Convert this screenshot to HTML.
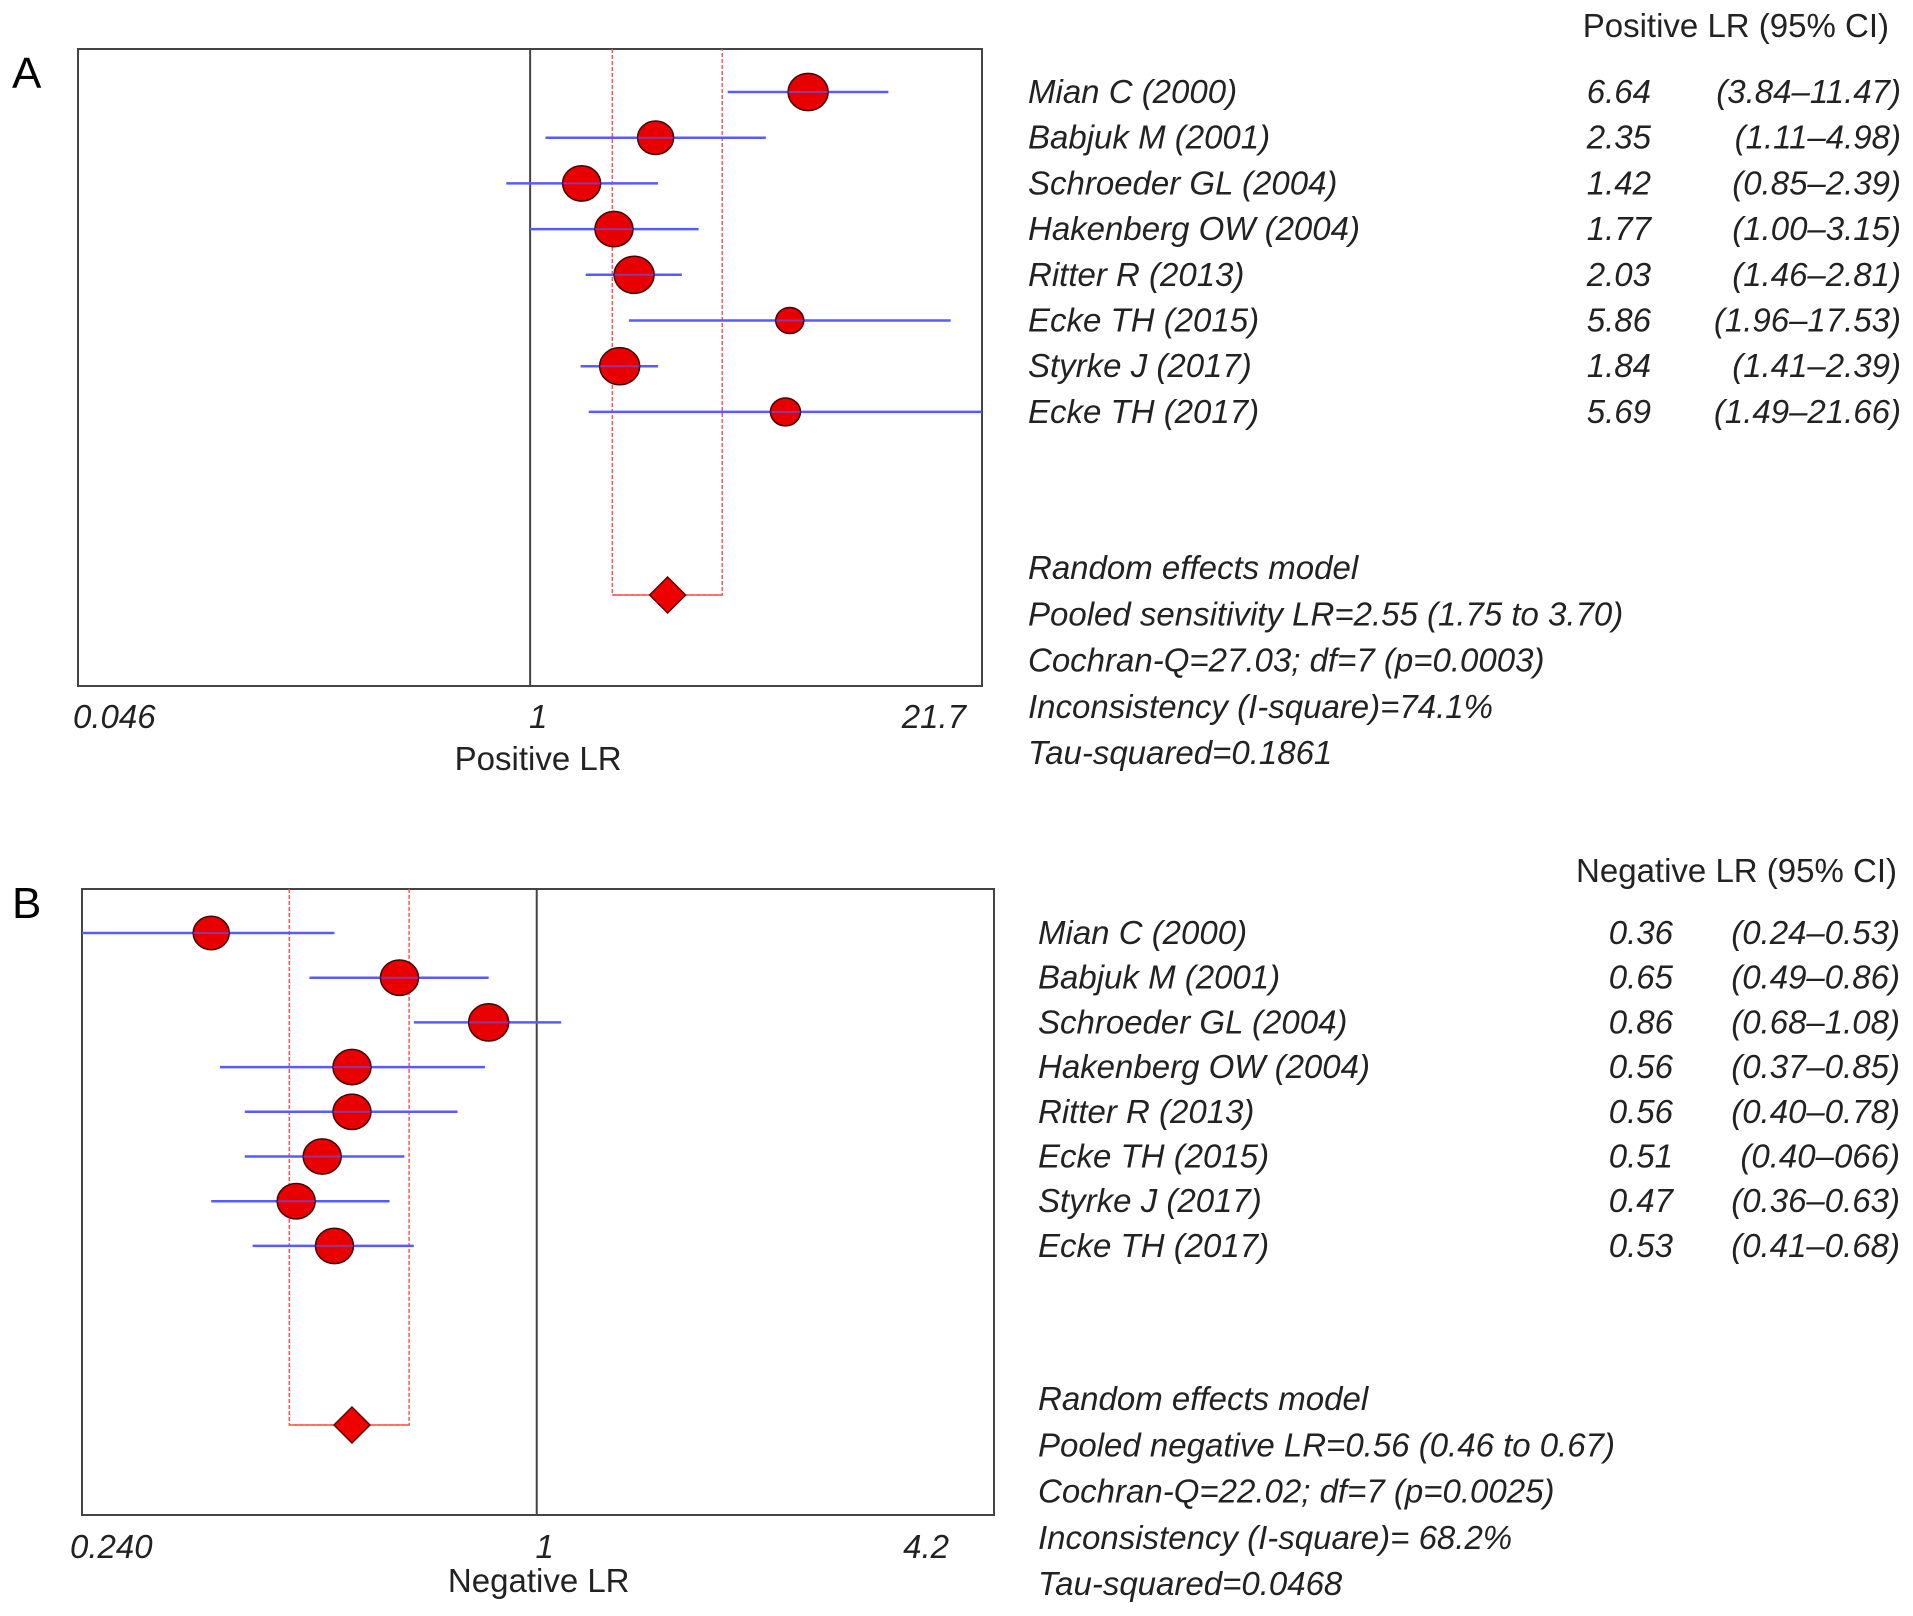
<!DOCTYPE html>
<html><head><meta charset="utf-8"><style>
html,body{margin:0;padding:0;background:#fff;}
svg{display:block;font-family:"Liberation Sans",sans-serif;}
.it{font-style:italic;}
</style></head><body>
<svg id="chart" width="1913" height="1616" viewBox="0 0 1913 1616">
<text x="12" y="88" font-size="44">A</text>
<text x="12" y="918" font-size="44">B</text>
</svg>
<script>
// Panel A data
const studiesA = ["Mian C (2000)","Babjuk M (2001)","Schroeder GL (2004)","Hakenberg OW (2004)","Ritter R (2013)","Ecke TH (2015)","Styrke J (2017)","Ecke TH (2017)"];
const estA = [6.64,2.35,1.42,1.77,2.03,5.86,1.84,5.69];
const lowA = [3.84,1.11,0.85,1.00,1.46,1.96,1.41,1.49];
const highA = [11.47,4.98,2.39,3.15,2.81,17.53,2.39,21.66];
const ciTextA = ["(3.84–11.47)","(1.11–4.98)","(0.85–2.39)","(1.00–3.15)","(1.46–2.81)","(1.96–17.53)","(1.41–2.39)","(1.49–21.66)"];
const weightA = [20,18,19,19,20,14,20,15];
const pooledA = [2.55,1.75,3.70];
const ticksA = ["0.046","1","21.7"];
const tickValsA = [0.046,1,21.7];
const summaryA = ["Random effects model","Pooled sensitivity LR=2.55 (1.75 to 3.70)","Cochran-Q=27.03; df=7 (p=0.0003)","Inconsistency (I-square)=74.1%","Tau-squared=0.1861"];
// Panel B data
const studiesB = ["Mian C (2000)","Babjuk M (2001)","Schroeder GL (2004)","Hakenberg OW (2004)","Ritter R (2013)","Ecke TH (2015)","Styrke J (2017)","Ecke TH (2017)"];
const estB = [0.36,0.65,0.86,0.56,0.56,0.51,0.47,0.53];
const lowB = [0.24,0.49,0.68,0.37,0.40,0.40,0.36,0.41];
const highB = [0.53,0.86,1.08,0.85,0.78,0.66,0.63,0.68];
const ciTextB = ["(0.24–0.53)","(0.49–0.86)","(0.68–1.08)","(0.37–0.85)","(0.40–0.78)","(0.40–066)","(0.36–0.63)","(0.41–0.68)"];
const weightB = [18,19,20,19,19,19,19,19];
const pooledB = [0.56,0.46,0.67];
const ticksB = ["0.240","1","4.2"];
const tickValsB = [0.240,1,4.2];
const summaryB = ["Random effects model","Pooled negative LR=0.56 (0.46 to 0.67)","Cochran-Q=22.02; df=7 (p=0.0025)","Inconsistency (I-square)= 68.2%","Tau-squared=0.0468"];

const NS="http://www.w3.org/2000/svg";
const svg=document.getElementById('chart');
const FS=33;
function mk(tag,attrs,parent){const e=document.createElementNS(NS,tag);for(const k in attrs)e.setAttribute(k,attrs[k]);(parent||svg).appendChild(e);return e;}

function panel(cfg){
  const g=mk('g',{});
  
  
  const lmin=Math.log10(cfg.min),lmax=Math.log10(cfg.max);
  const xs=v=>cfg.x0+(Math.log10(v)-lmin)/(lmax-lmin)*(cfg.x1-cfg.x0);
  const ys=i=>cfg.row0+i*cfg.rowStep;
  const box=mk('rect',{x:cfg.x0,y:cfg.y0,width:cfg.x1-cfg.x0,height:cfg.y1-cfg.y0,fill:'none',stroke:'#444','stroke-width':2},g);
  
  
  const ref=mk('line',{x1:xs(1),x2:xs(1),y1:cfg.y0,y2:cfg.y1,stroke:'#444','stroke-width':2},g);
  
  
  const pl=xs(cfg.pooled[1]),ph=xs(cfg.pooled[2]),pm=xs(cfg.pooled[0]);
  const br=mk('path',{d:`M${pl},${cfg.y0} V${cfg.dy} H${ph} V${cfg.y0}`,fill:'none',stroke:'#f55','stroke-width':1.5,'stroke-dasharray':'4,2'},g);
  
  
  const bb=mk('line',{x1:pl,x2:ph,y1:cfg.dy,y2:cfg.dy,stroke:'#f55','stroke-width':1.5},g);
  
  
  const d=18;
  const dia=mk('polygon',{points:`${pm-d},${cfg.dy} ${pm},${cfg.dy-d} ${pm+d},${cfg.dy} ${pm},${cfg.dy+d}`,fill:'#e00',stroke:'#600','stroke-width':1.5},g);
  
  
  for(let i=0;i<cfg.est.length;i++){
    const y=ys(i);
    const lo=Math.max(xs(cfg.low[i]),cfg.x0),hi=Math.min(xs(cfg.high[i]),cfg.x1);
    const ci=mk('line',{x1:lo,x2:hi,y1:y,y2:y,stroke:'#5a5aff','stroke-width':2.5},g);
    
    
    const r=cfg.w[i];
    const c=mk('ellipse',{cx:xs(cfg.est[i]),cy:y,rx:r,ry:r*0.93,fill:'#e80000',stroke:'#400','stroke-width':1.5},g);
    
    
    const ci2=mk('line',{x1:Math.max(xs(cfg.est[i])-r,lo),x2:Math.min(xs(cfg.est[i])+r,hi),y1:y,y2:y,stroke:'#5a5aff','stroke-width':2,opacity:0.6},g);
    
    
    const t1=mk('text',{x:cfg.nameX,y:y+11,'font-size':FS,class:'it',fill:'#222'},g);t1.textContent=cfg.names[i];
    
    
    const t2=mk('text',{x:cfg.valX,y:y+11,'font-size':FS,class:'it','text-anchor':'end',fill:'#222'},g);t2.textContent=cfg.est[i].toFixed(2);
    
    
    const t3=mk('text',{x:cfg.ciX,y:y+11,'font-size':FS,class:'it','text-anchor':'end',fill:'#222'},g);t3.textContent=cfg.ciText[i];
    
    
  }
  const anchors=['start','middle','end'];
  for(let i=0;i<cfg.ticks.length;i++){
    const t=mk('text',{x:xs(cfg.tickVals[i])+cfg.offs[i],y:cfg.tickY,'font-size':FS,class:'it','text-anchor':anchors[i],fill:'#222'},g);
    t.textContent=cfg.ticks[i];
    
    
  }
  const at=mk('text',{x:xs(1)+cfg.titleOff,y:cfg.titleY,'font-size':FS,'text-anchor':'middle',fill:'#222'},g);at.textContent=cfg.axisTitle;
  
  
  const hd=mk('text',{x:cfg.headX,y:cfg.headY,'font-size':FS,'text-anchor':'end',fill:'#222'},g);hd.textContent=cfg.header;
  
  
  for(let i=0;i<cfg.summary.length;i++){
    const s=mk('text',{x:cfg.nameX,y:cfg.sumY+i*46.3,'font-size':FS,class:'it',fill:'#222'},g);s.textContent=cfg.summary[i];
    
    
  }
}
panel({key:'panel-a',min:0.046,max:21.7,x0:78,x1:982,y0:49,y1:686,row0:92,rowStep:45.7,dy:595,
  est:estA,low:lowA,high:highA,w:weightA,pooled:pooledA,names:studiesA,ciText:ciTextA,
  nameX:1028,valX:1651,ciX:1901,ticks:ticksA,tickVals:tickValsA,offs:[-5,8,-16],tickY:728,titleY:770,titleOff:8,axisTitle:'Positive LR',
  headX:1889,headY:37,header:'Positive LR (95% CI)',summary:summaryA,sumY:579});
panel({key:'panel-b',min:0.240,max:4.2,x0:82,x1:994,y0:889,y1:1515,row0:933,rowStep:44.7,dy:1425,
  est:estB,low:lowB,high:highB,w:weightB,pooled:pooledB,names:studiesB,ciText:ciTextB,
  nameX:1038,valX:1673,ciX:1900,ticks:ticksB,tickVals:tickValsB,offs:[-12,8,-45],tickY:1558,titleY:1592,titleOff:2,axisTitle:'Negative LR',
  headX:1897,headY:882,header:'Negative LR (95% CI)',summary:summaryB,sumY:1410});
</script>
</body></html>
